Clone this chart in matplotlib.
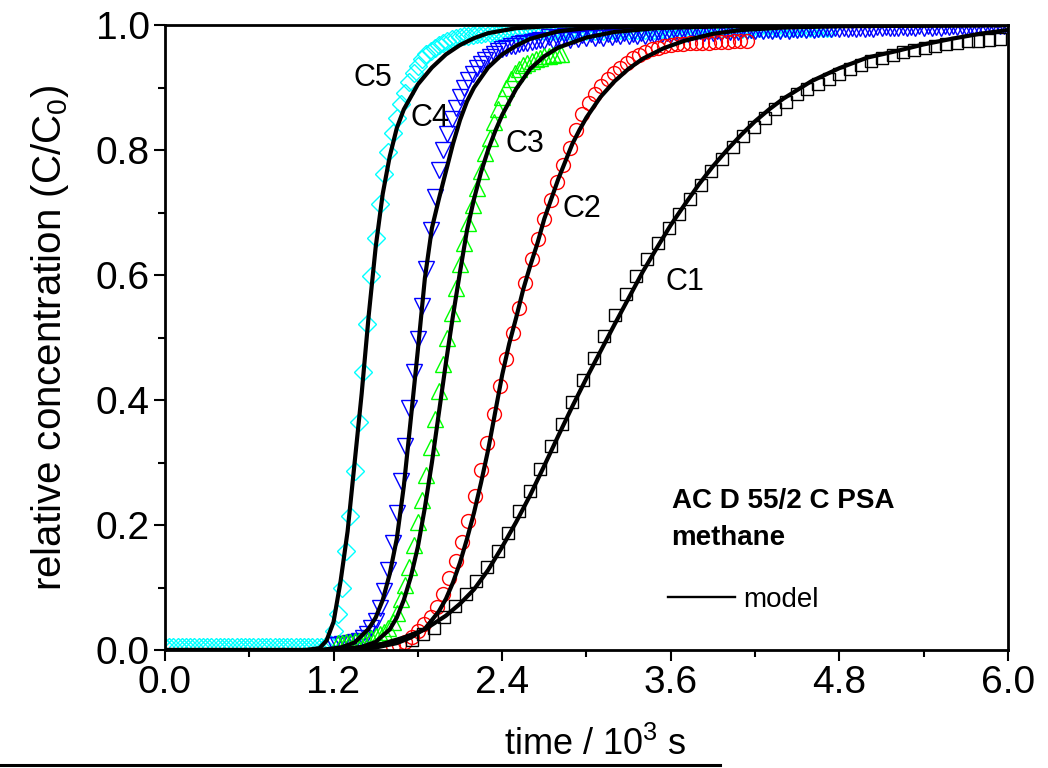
import matplotlib
matplotlib.use("Agg")
import matplotlib.pyplot as plt
from matplotlib.lines import Line2D

# breakthrough data, time in 10^3 s, relative concentration C/C0
t1 = [1.760, 1.836, 1.912, 1.988, 2.064, 2.140, 2.216, 2.292, 2.368, 2.444,
      2.520, 2.596, 2.672, 2.748, 2.824, 2.900, 2.976, 3.052, 3.128, 3.204,
      3.280, 3.356, 3.432, 3.508, 3.584, 3.660, 3.736, 3.812, 3.888, 3.964,
      4.040, 4.116, 4.192, 4.268, 4.344, 4.420, 4.496, 4.572, 4.648, 4.724,
      4.800, 4.876, 4.952, 5.028, 5.104, 5.180, 5.256, 5.332, 5.408, 5.484,
      5.560, 5.636, 5.712, 5.788, 5.864, 5.940]
c1 = [0.016, 0.026, 0.036, 0.053, 0.070, 0.089, 0.110, 0.133, 0.159, 0.188,
      0.222, 0.255, 0.290, 0.326, 0.362, 0.397, 0.432, 0.467, 0.502, 0.536,
      0.570, 0.599, 0.626, 0.652, 0.675, 0.698, 0.722, 0.744, 0.766, 0.786,
      0.805, 0.822, 0.837, 0.852, 0.865, 0.877, 0.889, 0.898, 0.905, 0.913,
      0.922, 0.929, 0.936, 0.942, 0.948, 0.952, 0.957, 0.960, 0.964, 0.967,
      0.970, 0.972, 0.974, 0.975, 0.976, 0.977]

t2 = [1.620, 1.665, 1.710, 1.755, 1.800, 1.845, 1.890, 1.935, 1.980, 2.025,
      2.070, 2.115, 2.160, 2.205, 2.250, 2.295, 2.340, 2.385, 2.430, 2.475,
      2.520, 2.565, 2.610, 2.655, 2.700, 2.745, 2.790, 2.835, 2.880, 2.925,
      2.970, 3.015, 3.060, 3.105, 3.150, 3.195, 3.240, 3.285, 3.330, 3.375,
      3.420, 3.465, 3.510, 3.555, 3.600, 3.645, 3.690, 3.735, 3.780, 3.825,
      3.870, 3.915, 3.960, 4.005, 4.050, 4.095, 4.140]
c2 = [0.006, 0.008, 0.013, 0.021, 0.031, 0.041, 0.053, 0.069, 0.089, 0.115,
      0.142, 0.173, 0.207, 0.247, 0.288, 0.332, 0.378, 0.422, 0.465, 0.508,
      0.548, 0.588, 0.626, 0.658, 0.690, 0.720, 0.749, 0.776, 0.803, 0.832,
      0.858, 0.876, 0.890, 0.903, 0.914, 0.924, 0.932, 0.940, 0.947, 0.952,
      0.957, 0.961, 0.964, 0.966, 0.968, 0.969, 0.970, 0.971, 0.971, 0.972,
      0.972, 0.973, 0.973, 0.973, 0.974, 0.974, 0.974]

t3 = [1.23, 1.26, 1.29, 1.32, 1.35, 1.38, 1.41, 1.44, 1.47, 1.50,
      1.53, 1.56, 1.59, 1.62, 1.65, 1.68, 1.71, 1.74, 1.77, 1.80,
      1.83, 1.86, 1.89, 1.92, 1.95, 1.98, 2.01, 2.04, 2.07, 2.10,
      2.13, 2.16, 2.19, 2.22, 2.25, 2.28, 2.31, 2.34, 2.37, 2.40,
      2.43, 2.46, 2.49, 2.52, 2.55, 2.58, 2.61, 2.64, 2.67, 2.70,
      2.73, 2.76, 2.79, 2.82]
c3 = [0.012, 0.012, 0.013, 0.013, 0.014, 0.015, 0.016, 0.018, 0.020, 0.022,
      0.025, 0.029, 0.035, 0.045, 0.060, 0.082, 0.104, 0.133, 0.168, 0.205,
      0.240, 0.280, 0.325, 0.370, 0.415, 0.458, 0.500, 0.540, 0.580, 0.618,
      0.652, 0.683, 0.712, 0.740, 0.767, 0.795, 0.820, 0.845, 0.866, 0.885,
      0.900, 0.913, 0.924, 0.930, 0.936, 0.940, 0.943, 0.946, 0.948, 0.950,
      0.951, 0.952, 0.953, 0.954]

t4 = [1.20, 1.23, 1.26, 1.29, 1.32, 1.35, 1.38, 1.41, 1.44, 1.47,
      1.50, 1.53, 1.56, 1.59, 1.62, 1.65, 1.68, 1.71, 1.74, 1.77,
      1.80, 1.83, 1.86, 1.89, 1.92, 1.95, 1.98, 2.01, 2.04, 2.07,
      2.10, 2.13, 2.16, 2.19, 2.22, 2.25, 2.28, 2.31, 2.34, 2.37,
      2.40, 2.43, 2.46, 2.49, 2.52, 2.55, 2.58, 2.61, 2.64, 2.67,
      2.70, 2.73, 2.76, 2.79, 2.82, 2.85, 2.88, 2.91, 2.94, 2.97,
      3.00, 3.03, 3.06, 3.09, 3.12, 3.15, 3.18, 3.21, 3.24, 3.27,
      3.30, 3.33, 3.36, 3.39, 3.42, 3.45, 3.48, 3.51, 3.54, 3.57,
      3.60, 3.63, 3.66, 3.69, 3.72, 3.75, 3.78, 3.81, 3.84, 3.87,
      3.90, 3.93, 3.96, 3.99, 4.02, 4.05, 4.08, 4.11, 4.14, 4.17,
      4.20, 4.23, 4.26, 4.29, 4.32, 4.35, 4.38, 4.41, 4.44, 4.47,
      4.50, 4.53, 4.56, 4.59, 4.62, 4.65, 4.68, 4.71, 4.74, 4.77,
      4.80, 4.83, 4.86, 4.89, 4.92, 4.95, 4.98, 5.01, 5.04, 5.07,
      5.10, 5.13, 5.16, 5.19, 5.22, 5.25, 5.28, 5.31, 5.34, 5.37,
      5.40, 5.43, 5.46, 5.49, 5.52, 5.55, 5.58, 5.61, 5.64, 5.67,
      5.70, 5.73, 5.76, 5.79, 5.82, 5.85, 5.88, 5.91, 5.94, 5.97,
      6.00]
c4 = [0.008, 0.008, 0.009, 0.010, 0.011, 0.013, 0.015, 0.019, 0.025, 0.035,
      0.047, 0.067, 0.095, 0.128, 0.172, 0.220, 0.270, 0.327, 0.387, 0.445,
      0.497, 0.550, 0.610, 0.672, 0.725, 0.768, 0.800, 0.826, 0.850, 0.868,
      0.885, 0.899, 0.912, 0.922, 0.931, 0.938, 0.944, 0.949, 0.954, 0.958,
      0.961, 0.963, 0.966, 0.967, 0.969, 0.971, 0.972, 0.973, 0.975, 0.976,
      0.975, 0.981, 0.974, 0.980, 0.977, 0.983, 0.976, 0.982, 0.978, 0.984,
      0.979, 0.985, 0.980, 0.984, 0.979, 0.986, 0.981, 0.985, 0.982, 0.987,
      0.982, 0.986, 0.983, 0.988, 0.983, 0.987, 0.984, 0.989, 0.985, 0.988,
      0.985, 0.989, 0.986, 0.990, 0.986, 0.989, 0.987, 0.991, 0.987, 0.990,
      0.988, 0.991, 0.988, 0.992, 0.989, 0.991, 0.989, 0.993, 0.990, 0.992,
      0.990, 0.993, 0.990, 0.992, 0.991, 0.994, 0.991, 0.993, 0.991, 0.994,
      0.992, 0.994, 0.992, 0.995, 0.992, 0.994, 0.993, 0.995, 0.993, 0.995,
      0.993, 0.996, 0.993, 0.995, 0.994, 0.996, 0.994, 0.996, 0.994, 0.997,
      0.995, 0.997, 0.995, 0.996, 0.995, 0.997, 0.995, 0.997, 0.996, 0.998,
      0.996, 0.998, 0.996, 0.997, 0.996, 0.998, 0.997, 0.998, 0.997, 0.999,
      0.997, 0.998, 0.997, 0.999, 0.997, 0.998, 0.998, 0.999, 0.998, 0.999,
      0.998]

t5 = [0.00, 0.03, 0.06, 0.09, 0.12, 0.15, 0.18, 0.21, 0.24, 0.27,
      0.30, 0.33, 0.36, 0.39, 0.42, 0.45, 0.48, 0.51, 0.54, 0.57,
      0.60, 0.63, 0.66, 0.69, 0.72, 0.75, 0.78, 0.81, 0.84, 0.87,
      0.90, 0.93, 0.96, 0.99, 1.02, 1.05, 1.08, 1.11, 1.14, 1.17,
      1.20, 1.23, 1.26, 1.29, 1.32, 1.35, 1.38, 1.41, 1.44, 1.47,
      1.50, 1.53, 1.56, 1.59, 1.62, 1.65, 1.68, 1.71, 1.74, 1.77,
      1.80, 1.83, 1.86, 1.89, 1.92, 1.95, 1.98, 2.01, 2.04, 2.07,
      2.10, 2.13, 2.16, 2.19, 2.22, 2.25, 2.28, 2.31, 2.34, 2.37,
      2.40, 2.43, 2.46, 2.49, 2.52, 2.55, 2.58, 2.61, 2.64, 2.67,
      2.70, 2.73, 2.76, 2.79, 2.82, 2.85, 2.88, 2.91, 2.94, 2.97,
      3.00, 3.03, 3.06, 3.09, 3.12, 3.15, 3.18, 3.21, 3.24, 3.27,
      3.30, 3.33, 3.36, 3.39, 3.42, 3.45, 3.48, 3.51, 3.54, 3.57,
      3.60, 3.63, 3.66, 3.69, 3.72, 3.75, 3.78, 3.81, 3.84, 3.87,
      3.90, 3.93, 3.96, 3.99, 4.02, 4.05, 4.08, 4.11, 4.14, 4.17,
      4.20, 4.23, 4.26, 4.29, 4.32, 4.35, 4.38, 4.41, 4.44, 4.47,
      4.50, 4.53, 4.56, 4.59, 4.62, 4.65, 4.68, 4.71, 4.74]
c5 = [0.005, 0.005, 0.005, 0.005, 0.005, 0.005, 0.005, 0.005, 0.005, 0.005,
      0.005, 0.005, 0.005, 0.005, 0.005, 0.005, 0.005, 0.005, 0.005, 0.005,
      0.005, 0.005, 0.005, 0.005, 0.005, 0.005, 0.005, 0.005, 0.005, 0.005,
      0.005, 0.005, 0.005, 0.005, 0.005, 0.005, 0.005, 0.005, 0.005, 0.012,
      0.030, 0.058, 0.100, 0.158, 0.215, 0.287, 0.365, 0.445, 0.522, 0.598,
      0.660, 0.714, 0.762, 0.797, 0.827, 0.852, 0.874, 0.892, 0.909, 0.924,
      0.935, 0.945, 0.953, 0.959, 0.964, 0.968, 0.972, 0.975, 0.977, 0.979,
      0.981, 0.982, 0.983, 0.984, 0.985, 0.986, 0.987, 0.987, 0.988, 0.988,
      0.988, 0.989, 0.989, 0.989, 0.989, 0.990, 0.990, 0.990, 0.990, 0.990,
      0.990, 0.991, 0.990, 0.991, 0.990, 0.991, 0.990, 0.991, 0.991, 0.991,
      0.991, 0.991, 0.991, 0.992, 0.991, 0.991, 0.992, 0.991, 0.992, 0.992,
      0.992, 0.992, 0.992, 0.992, 0.992, 0.993, 0.992, 0.992, 0.993, 0.992,
      0.993, 0.993, 0.993, 0.993, 0.993, 0.993, 0.993, 0.994, 0.993, 0.993,
      0.994, 0.993, 0.994, 0.994, 0.994, 0.994, 0.994, 0.994, 0.994, 0.994,
      0.994, 0.995, 0.994, 0.995, 0.994, 0.995, 0.995, 0.995, 0.995, 0.995,
      0.995, 0.995, 0.995, 0.995, 0.995, 0.995, 0.995, 0.995, 0.995]

# model curves
m1_t = [0.0, 1.2, 1.4, 1.55, 1.7, 1.85, 2.0, 2.1, 2.2, 2.3, 2.4, 2.5, 2.6, 2.7, 2.8,
        2.9, 3.0, 3.1, 3.2, 3.3, 3.4, 3.5, 3.6, 3.7, 3.8, 3.9, 4.0, 4.1, 4.2, 4.3,
        4.4, 4.6, 4.8, 5.0, 5.2, 5.4, 5.6, 5.8, 6.0]
m1_c = [0.0, 0.0, 0.004, 0.010, 0.020, 0.033, 0.055, 0.074, 0.097, 0.128, 0.165, 0.205,
        0.248, 0.295, 0.343, 0.390, 0.435, 0.478, 0.521, 0.563, 0.605, 0.643, 0.680,
        0.713, 0.745, 0.774, 0.800, 0.824, 0.846, 0.865, 0.882, 0.910, 0.931, 0.948,
        0.958, 0.969, 0.978, 0.986, 0.992]
m2_t = [0.0, 1.3, 1.5, 1.65, 1.75, 1.85, 1.95, 2.0, 2.05, 2.1, 2.15, 2.2, 2.25, 2.3,
        2.35, 2.4, 2.45, 2.5, 2.55, 2.6, 2.65, 2.7, 2.75, 2.8, 2.85, 2.9, 2.95, 3.0,
        3.1, 3.2, 3.3, 3.4, 3.55, 3.7, 3.9, 4.1, 4.4, 4.8, 6.0]
m2_c = [0.0, 0.0, 0.004, 0.011, 0.020, 0.034, 0.062, 0.082, 0.108, 0.140, 0.178, 0.220,
        0.268, 0.320, 0.380, 0.440, 0.490, 0.532, 0.577, 0.615, 0.650, 0.690, 0.722,
        0.754, 0.782, 0.810, 0.832, 0.852, 0.885, 0.910, 0.930, 0.946, 0.963, 0.975,
        0.986, 0.992, 0.996, 0.998, 1.0]
m3_t = [0.0, 1.2, 1.4, 1.5, 1.6, 1.65, 1.7, 1.75, 1.8, 1.85, 1.9, 1.95, 2.0, 2.05, 2.1,
        2.15, 2.2, 2.25, 2.3, 2.35, 2.4, 2.5, 2.6, 2.7, 2.8, 3.0, 3.2, 3.5, 4.0, 6.0]
m3_c = [0.0, 0.0, 0.005, 0.013, 0.033, 0.052, 0.080, 0.117, 0.165, 0.228, 0.300, 0.380,
        0.460, 0.535, 0.605, 0.672, 0.722, 0.765, 0.800, 0.830, 0.856, 0.898, 0.930,
        0.950, 0.964, 0.980, 0.989, 0.995, 0.998, 1.0]
m4_t = [0.0, 1.1, 1.25, 1.35, 1.45, 1.5, 1.55, 1.6, 1.65, 1.7, 1.75, 1.8, 1.85, 1.9,
        1.95, 2.0, 2.05, 2.1, 2.15, 2.2, 2.3, 2.4, 2.5, 2.6, 2.8, 3.0, 3.5, 6.0]
m4_c = [0.0, 0.0, 0.004, 0.012, 0.034, 0.052, 0.080, 0.122, 0.178, 0.262, 0.370, 0.480,
        0.595, 0.675, 0.722, 0.766, 0.810, 0.848, 0.878, 0.900, 0.932, 0.953, 0.967,
        0.978, 0.990, 0.995, 0.999, 1.0]
m5_t = [0.0, 1.0, 1.1, 1.15, 1.2, 1.25, 1.3, 1.35, 1.4, 1.45, 1.5, 1.55, 1.6, 1.65,
        1.7, 1.8, 1.9, 2.0, 2.1, 2.2, 2.3, 2.5, 2.8, 6.0]
m5_c = [0.0, 0.0, 0.003, 0.015, 0.045, 0.110, 0.190, 0.300, 0.410, 0.535, 0.645, 0.730,
        0.790, 0.835, 0.865, 0.905, 0.932, 0.953, 0.968, 0.979, 0.987, 0.995, 0.999, 1.0]

curve_names = ["C1", "C2", "C3", "C4", "C5"]
label_t = [3.70, 2.965, 2.562, 1.888, 1.48]
label_c = [0.589, 0.705, 0.810, 0.851, 0.915]

xticks = [0.0, 1.2, 2.4, 3.6, 4.8, 6.0]
xminor = [0.6, 1.8, 3.0, 4.2, 5.4]
yticks = [0.0, 0.2, 0.4, 0.6, 0.8, 1.0]
yminor = [0.1, 0.3, 0.5, 0.7, 0.9]

plt.rcParams['font.family'] = ['Liberation Sans', 'DejaVu Sans']
plt.rcParams['mathtext.default'] = 'regular'

fig = plt.figure(figsize=(10.48, 7.68), dpi=100)
ax = fig.add_axes([0.1574, 0.1536, 0.8044, 0.8138])

# symbols, drawn cyan first so blue sits on top of it
series = [(t5, c5, 'D', '#00ffff', 9),
          (t4, c4, 'v', '#0000ff', 11),
          (t3, c3, '^', '#00ff00', 11),
          (t2, c2, 'o', '#ff0000', 10),
          (t1, c1, 's', '#000000', 8.5)]
for t, c, m, col, ms in series:
    ax.plot(t, c, ls='none', marker=m, ms=ms, mfc='none', mec=col, mew=1.0)

for mt, mc in [(m1_t, m1_c), (m2_t, m2_c), (m3_t, m3_c), (m4_t, m4_c), (m5_t, m5_c)]:
    ax.plot(mt, mc, color='black', lw=3, zorder=3)

for name, lt, lc in zip(curve_names, label_t, label_c):
    ax.text(lt, lc, name, fontsize=22, ha='center', va='center')

ax.text(3.606, 0.2267, 'AC D 55/2 C PSA', fontsize=20, fontweight='bold', va='baseline')
ax.text(3.606, 0.168, 'methane', fontsize=20, fontweight='bold', va='baseline')

ax.legend([Line2D([], [], color='black', lw=1.7)], ['model'], loc='center left',
          bbox_to_anchor=(0.5967, 0.08), frameon=False, fontsize=20,
          handlelength=2.4, handletextpad=0.3, borderpad=0, borderaxespad=0)

ax.set_xlim(0, 6)
ax.set_ylim(0, 1)
ax.set_xticks(xticks)
ax.set_xticks(xminor, minor=True)
ax.set_yticks(yticks)
ax.set_yticks(yminor, minor=True)
ax.set_xticklabels(['%.1f' % v for v in xticks], fontsize=28)
ax.set_yticklabels(['%.1f' % v for v in yticks], fontsize=28)
ax.tick_params(which='both', direction='out', width=1.5, top=False, right=False)
ax.tick_params(which='major', length=8, pad=3)
ax.tick_params(which='minor', length=5)
for s in ax.spines.values():
    s.set_linewidth(2)

ax.set_ylabel('relative concentration (C/$C_0$)', fontsize=29, labelpad=18)
ax.set_xlabel('time / $10^3$ s', fontsize=26)
ax.xaxis.set_label_coords(0.51, -0.168)
ax.xaxis.label.set_va('baseline')

# rule under the axis title
fig.add_artist(Line2D([0, 0.687], [0.004, 0.004], color='black', lw=2.2))

fig.savefig('out.png', dpi=100)
